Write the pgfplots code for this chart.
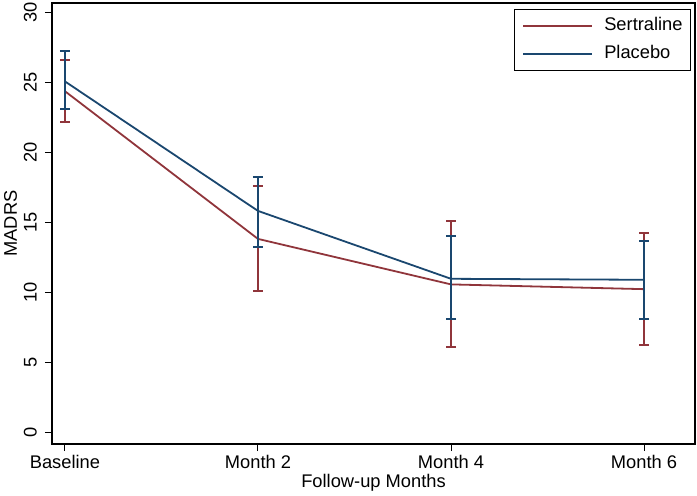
\documentclass[border=0pt]{standalone}
\usepackage{pgfplots}
\pgfplotsset{compat=1.18}
\usepackage{fontspec}
\setmainfont{Liberation Sans}
\definecolor{smaroon}{RGB}{144,53,59}
\definecolor{snavy}{RGB}{26,71,111}
\newcommand{\cf}{\fontsize{18.3}{22}\selectfont}
\begin{document}
\begin{tikzpicture}
\begin{axis}[
  scale only axis, width=643pt, height=441pt,
  xmin=-0.067, xmax=3.264, ymin=-0.8, ymax=30.7,
  xtick={0,1,2,3}, xticklabels={Baseline,Month 2,Month 4,Month 6},
  ytick={0,5,...,30},
  /pgf/number format/assume math mode=true,
  tick align=outside, tick pos=left, major tick length=7pt,
  every tick/.style={black, line width=1pt},
  axis line style={line width=1.1pt},
  tick label style={font=\cf},
  yticklabel style={rotate=90, anchor=south, inner sep=0pt, yshift=8pt},
  xticklabel style={anchor=north, inner sep=0pt, yshift=-4pt},
  xlabel={Follow-up Months}, ylabel={MADRS},
  label style={font=\cf},
  xlabel style={at={(rel axis cs:0.5,0)}, anchor=base, yshift=-44pt},
  ylabel style={at={(rel axis cs:0,0.5)}, anchor=base, yshift=35pt},
  legend style={at={(rel axis cs:1,1)}, anchor=north east, xshift=-4pt, yshift=-6pt,
    draw=black, line width=0.8pt, font=\cf, inner xsep=8pt, inner ysep=9pt,
    nodes={inner sep=0pt, text height=12.5pt, text depth=3.5pt},
    row sep=11.5pt,
    /tikz/every odd column/.append style={column sep=11pt}},
  legend cell align=left,
  legend image code/.code={\draw[#1, line width=1.8pt] (0pt,0pt) -- (69pt,0pt);},
]
\addplot[color=smaroon, line width=1.8pt, mark=none,
  error bars/.cd, y dir=both, y explicit,
  error bar style={line width=2pt, color=smaroon},
  error mark options={rotate=90, mark size=5pt, line width=2pt, color=smaroon}]
coordinates {
  (0,24.4) += (0,2.2) -= (0,2.2)
  (1,13.85) += (0,3.75) -= (0,3.75)
  (2,10.6) += (0,4.54) -= (0,4.46)
  (3,10.26) += (0,4.04) -= (0,4.02)
};
\addlegendentry{Sertraline\hspace{6pt}}
\addplot[color=snavy, line width=1.8pt, mark=none,
  error bars/.cd, y dir=both, y explicit,
  error bar style={line width=2pt, color=snavy},
  error mark options={rotate=90, mark size=5pt, line width=2pt, color=snavy}]
coordinates {
  (0,25.1) += (0,2.2) -= (0,2.0)
  (1,15.85) += (0,2.45) -= (0,2.55)
  (2,11.0) += (0,3.07) -= (0,2.9)
  (3,10.93) += (0,2.74) -= (0,2.79)
};
\addlegendentry{Placebo}
\end{axis}
\pgfresetboundingbox
\path ([shift={(-52pt,-51.5pt)}]current axis.south west) rectangle ([shift={(2pt,3pt)}]current axis.north east);
\end{tikzpicture}
\end{document}
